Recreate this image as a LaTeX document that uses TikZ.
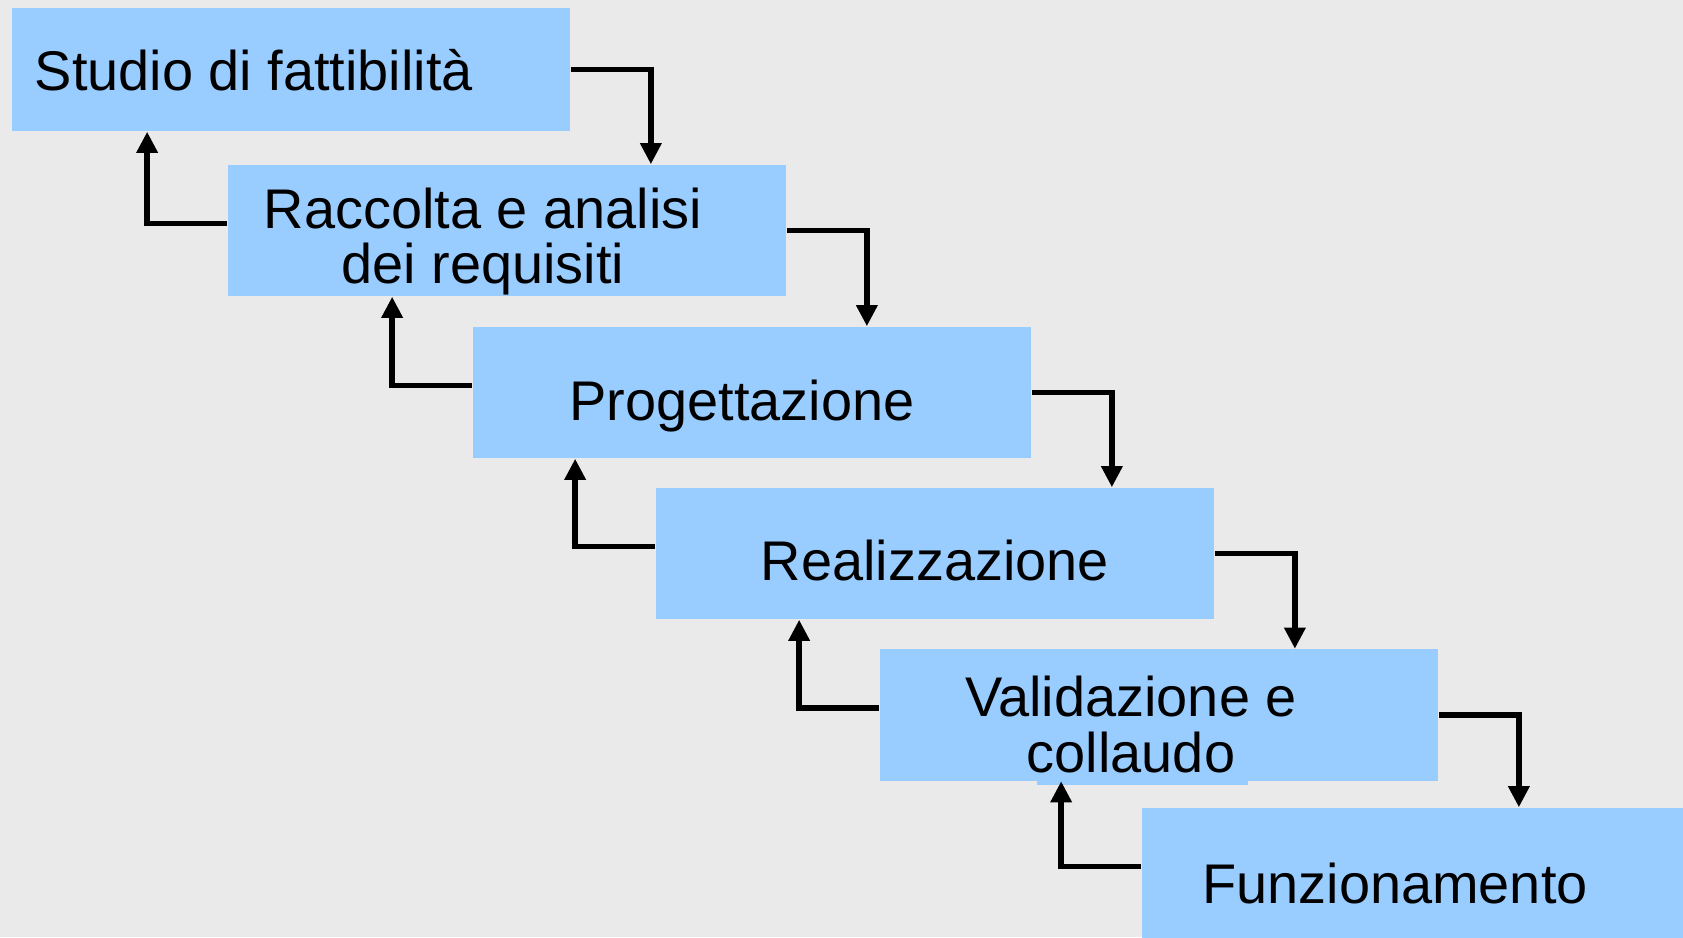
\documentclass[tikz,border=0pt]{standalone}
\usepackage{fontspec}
\setmainfont{Liberation Sans}
\usetikzlibrary{arrows.meta}
\definecolor{boxblue}{RGB}{153, 204, 255}
\definecolor{bggray}{RGB}{234, 234, 234}

\begin{document}
\begin{tikzpicture}[x=0.01cm, y=-0.01cm,
  phase/.style={fill=boxblue, minimum width=5.58cm, minimum height=1.31cm, inner sep=0},
  lbl/.style={inner sep=0, anchor=base, align=center, font=\fontsize{15.9}{15.9}\selectfont},
  flow/.style={line width=1.6pt, -{Triangle[length=6pt,width=5.8pt]}}
]
\useasboundingbox (0,0) rectangle (1683,937);
\begin{scope}
\clip (0,0) rectangle (1683,937);
\fill[bggray] (0,0) rectangle (1683,937);

% phases
\node[phase, minimum height=1.23cm] (b1) at (291,69.5) {};
\node[phase] (b2) at (507,230.5) {};
\node[phase] (b3) at (752,392.5) {};
\node[phase] (b4) at (935,553.5) {};
\node[phase] (b5) at (1159,715) {};
\node[phase] (b6) at (1421,873.5) {};
\fill[boxblue] (1037,781) rectangle (1248,785);

% labels
\node[lbl, anchor=base west] (t1) at (34,91) {Studio di fattibilità};
\node[lbl] (t2) at (483,284) {Raccolta e analisi\\dei requisiti};
\node[lbl] (t3) at (742,420) {Progettazione};
\node[lbl] (t4) at (935,580) {Realizzazione};
\node[lbl] (t5) at (1131,772) {Validazione e\\collaudo};
\node[lbl] (t6) at (1395,903) {Funzionamento};

% forward and back arrows
\foreach \a/\b in {b1/b2,b2/b3,b3/b4,b4/b5,b5/b6} {
  \draw[flow] (\a.east) -- ++(80,0) coordinate (bend) -- (bend |- \b.north);
  \draw[flow] ([yshift=2pt]\b.west) -- ++(-80,0) coordinate (bend) -- (bend |- \a.south);
}
\end{scope}
\end{tikzpicture}
\end{document}
